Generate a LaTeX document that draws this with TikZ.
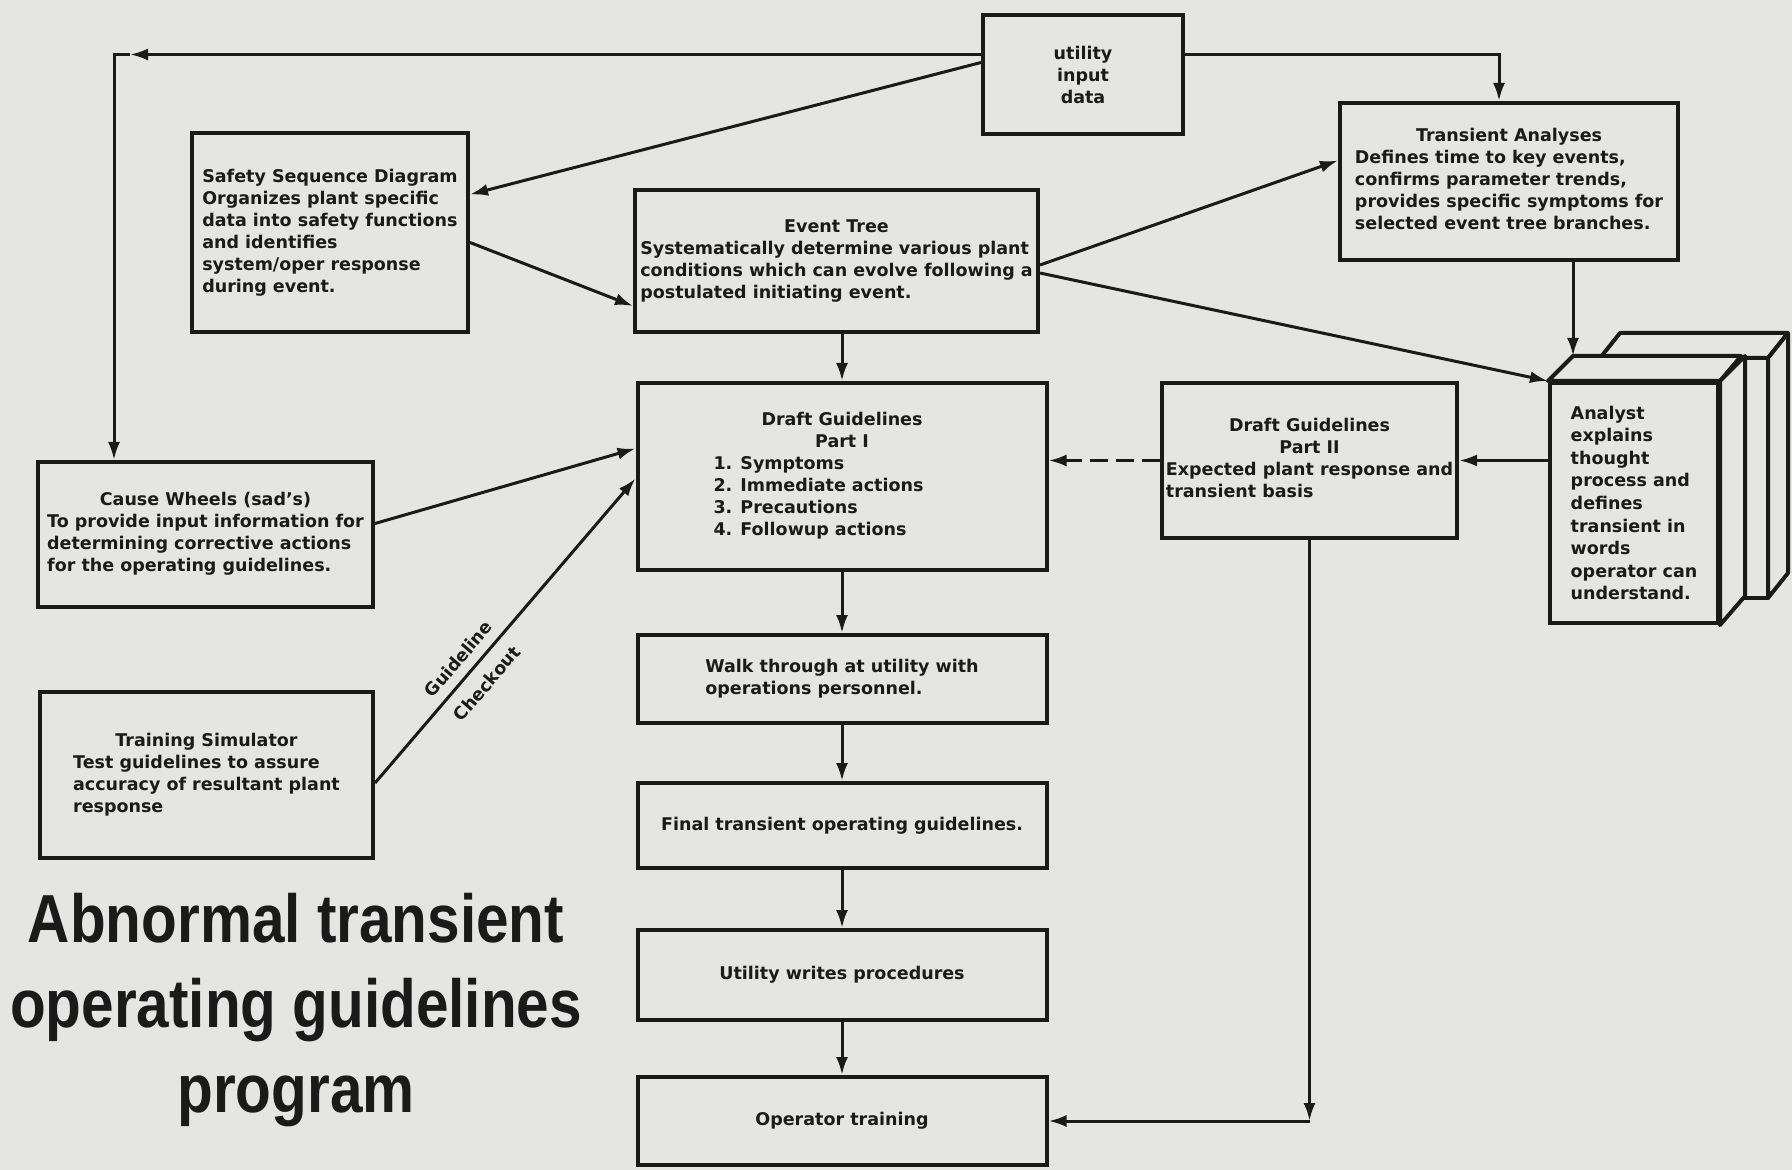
\documentclass[tikz,border=0pt]{standalone}
\usepackage{fontspec}
\setmainfont{DejaVu Sans}
\newfontfamily\titlefont[FakeStretch=0.86]{Liberation Sans}
\usetikzlibrary{arrows.meta,calc}
\definecolor{paper}{RGB}{229,229,227}
\definecolor{ink}{RGB}{26,26,26}
\newcommand{\bodyfont}{\fontsize{8.75pt}{11pt}\selectfont\bfseries}
\newcommand{\tl}[1]{\multicolumn{1}{@{}c@{}}{#1}}
\begin{document}
\begin{tikzpicture}[x=0.5pt,y=-0.5pt,
  box/.style={draw=ink, line width=2pt, fill=paper, inner sep=0pt, font=\bodyfont, text=ink},
  face/.style={draw=ink, line width=2pt, fill=paper, line join=round},
  conn/.style={draw=ink, line width=1.5pt},
  arr/.style={conn, -{Latex[length=9pt,width=6pt]}},
  lab/.style={font=\bodyfont, text=ink, inner sep=1pt}]
\useasboundingbox (0,0) rectangle (1792,1170);
\fill[paper] (0,0) rectangle (1792,1170);

% back sheet of the analyst stack
\draw[face] (1600,358) rectangle (1768,598);
\draw[face] (1600,358) -- (1620,333) -- (1788,333) -- (1768,358) -- cycle;
\draw[face] (1768,358) -- (1788,333) -- (1788,573) -- (1768,598) -- cycle;

\node[box, minimum width=100pt, minimum height=59.5pt, align=center] (util) at (1083,74.5)
  {utility\\input\\data};
\node[box, minimum width=138pt, minimum height=99.5pt, align=left] (safety) at (330,232.5)
  {Safety Sequence Diagram\\Organizes plant specific\\data into safety functions\\and identifies\\system/oper response\\during event.};
\node[box, minimum width=201.5pt, minimum height=71pt] (event) at (836.5,261)
  {\begin{tabular}{@{}l@{}}\tl{Event Tree}\\Systematically determine various plant\\conditions which can evolve following a\\postulated initiating event.\end{tabular}};
\node[box, minimum width=169pt, minimum height=78.5pt] (ta) at (1509,181.5)
  {\begin{tabular}{@{}l@{}}\tl{Transient Analyses}\\Defines time to key events,\\confirms parameter trends,\\provides specific symptoms for\\selected event tree branches.\end{tabular}};
\node[box, minimum width=204.5pt, minimum height=93.5pt] (d1) at (842,476.5)
  {\begin{tabular}{@{}l@{}}\tl{\makebox[128.5pt]{Draft Guidelines}}\\\tl{Part I}\\1. Symptoms\\2. Immediate actions\\3. Precautions\\4. Followup actions\end{tabular}};
\node[box, minimum width=147.5pt, minimum height=77.5pt] (d2) at (1309.5,460.5)
  {\begin{tabular}{@{}l@{}}\tl{Draft Guidelines}\\\tl{Part II}\\Expected plant response and\\transient basis\end{tabular}};
\node[box, minimum width=167.5pt, minimum height=72.5pt] (cause) at (205.5,534.5)
  {\begin{tabular}{@{}l@{}}\tl{Cause Wheels (sad's)}\\To provide input information for\\determining corrective actions\\for the operating guidelines.\end{tabular}};
\node[box, minimum width=166.5pt, minimum height=83pt] (train) at (206.5,775)
  {\begin{tabular}{@{}l@{}}\tl{Training Simulator}\\Test guidelines to assure\\accuracy of resultant plant\\response\end{tabular}};
\node[box, minimum width=204.5pt, minimum height=44pt, align=left] (walk) at (842,679)
  {Walk through at utility with\\operations personnel.};
\node[box, minimum width=204.5pt, minimum height=42.5pt] (final) at (842,825.5)
  {Final transient operating guidelines.};
\node[box, minimum width=204.5pt, minimum height=45pt] (uw) at (842,975)
  {Utility writes procedures};
\node[box, minimum width=204.5pt, minimum height=44pt] (op) at (842,1121)
  {Operator training};

% front sheet of the analyst stack
\node[box, minimum width=84pt, minimum height=120pt, align=left,
  font=\fontsize{8.75pt}{11.3pt}\selectfont\bfseries] (an) at (1634,503)
  {Analyst\\explains\\thought\\process and\\defines\\transient in\\words\\operator can\\understand.};
\draw[face] (an.north west) -- ++(25,-25) -- ++(168,0) -- (an.north east) -- cycle;
\draw[face] (an.north east) -- ++(25,-25) -- ++(0,240) -- (an.south east) -- cycle;

\node[font={\titlefont\fontsize{34pt}{42.5pt}\selectfont\bfseries}, align=center, text=ink, inner sep=0pt]
  (title) at (296,1010) {Abnormal transient\\operating guidelines\\program};

% connectors
\coordinate (c1) at (114,54.5);
\coordinate (c2) at (1499,54.5);
\coordinate (anback) at ($(an.north west)+(25,-25)$);
\coordinate (c3) at (d2.south |- op.east);

\draw[arr] ($(util.west)+(0,-20)$) -- ($(c1)+(16,0)$);
\draw[arr] ($(c1)+(16,0)$) -- (c1) -- (c1 |- cause.north);
\draw[arr] ($(util.east)+(0,-20)$) -- (c2) -- (c2 |- ta.north);
\draw[arr] ($(util.west)+(0,-12)$) -- ($(safety.east)+(0,-38)$);
\draw[arr] ($(safety.east)+(0,10)$) -- ($(event.west)+(0,45)$);
\draw[arr] ($(event.east)+(0,4)$) -- ($(ta.west)+(0,-21)$);
\draw[arr] ($(event.east)+(0,12)$) -- (an.north west);
\draw[arr] (anback |- ta.south) -- (anback);
\draw[arr] (d1.north |- event.south) -- (d1.north);
\draw[arr] (d2.east -| an.west) -- (d2.east);
\draw[arr, dash pattern=on 9pt off 4pt] (d2.west) -- (d2.west -| d1.east);
\draw[arr] ($(cause.east)+(0,-11)$) -- ($(d1.west)+(0,-28)$);
\draw[arr] ($(train.east)+(0,8)$) --
  node[lab, pos=0.37, sloped, above=3.5pt] (gl) {Guideline}
  node[lab, pos=0.37, sloped, below=5pt] (ck) {Checkout}
  ($(d1.west)+(0,2)$);
\draw[arr] (d1.south) -- (walk.north);
\draw[arr] (walk.south) -- (final.north);
\draw[arr] (final.south) -- (uw.north);
\draw[arr] (uw.south) -- (op.north);
\draw[arr] (d2.south) -- (c3);
\draw[arr] (c3) -- (op.east);
\end{tikzpicture}
\end{document}
